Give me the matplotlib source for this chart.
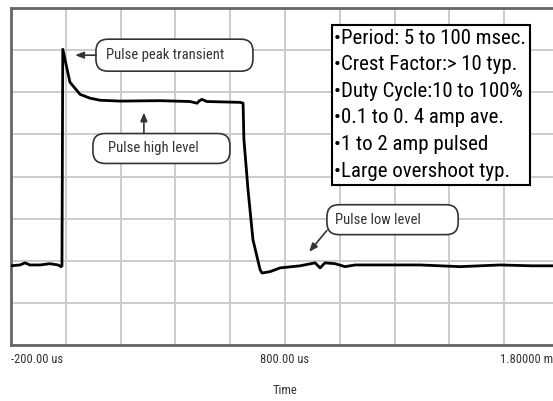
import matplotlib
matplotlib.use("Agg")
import matplotlib.pyplot as plt
from matplotlib.patches import FancyBboxPatch, Rectangle
from matplotlib import font_manager

# trace (time in us, level in grid divisions)
time_us = [-200, -167, -149, -131, -94, -58, -28, -18, -14, -11, 15, 52, 88, 125,
           198, 344, 453, 479, 488, 497, 515, 636, 647, 650, 665, 683, 709, 716,
           745, 782, 855, 910, 928, 946, 983, 1019, 1056, 1147, 1293, 1439, 1585,
           1700, 1800]
level = [1.88, 1.90, 1.95, 1.90, 1.90, 1.93, 1.90, 1.86, 1.88, 7.02, 6.24, 5.95,
         5.86, 5.81, 5.79, 5.80, 5.78, 5.74, 5.80, 5.83, 5.78, 5.76, 5.74, 4.88,
         3.69, 2.50, 1.79, 1.71, 1.74, 1.83, 1.88, 1.95, 1.83, 1.95, 1.93, 1.86,
         1.90, 1.90, 1.90, 1.86, 1.90, 1.88, 1.88]

tick_pos = [-200, 800, 1800]
tick_labels = ["-200.00 us", "800.00 us", "1.80000 ms"]
spec_lines = ["•Period: 5 to 100 msec.", "•Crest Factor:> 10 typ.",
              "•Duty Cycle:10 to 100%", "•0.1 to 0. 4 amp ave.",
              "•1 to 2 amp pulsed", "•Large overshoot typ."]

# pick a condensed face if one is around
names = {f.name for f in font_manager.fontManager.ttflist}
cond = [n for n in ["Roboto Condensed", "Liberation Sans Narrow",
                    "DejaVu Sans Condensed"] if n in names]
plt.rcParams["font.family"] = cond + ["DejaVu Sans"]
plt.rcParams["font.stretch"] = "condensed"

fig = plt.figure(figsize=(5.53, 4.01), dpi=100)
ax = fig.add_axes([11 / 553, 56 / 401, 548 / 553, 337 / 401])
ax.set_xlim(-200, 1800)
ax.set_ylim(0, 8)

# grid every 200 us and every division
for x in range(-200, 1801, 200):
    ax.axvline(x, color="#cccccc", lw=1.4, zorder=1)
for y in range(0, 9):
    ax.axhline(y, color="#cccccc", lw=1.4, zorder=1)

ax.plot(time_us, level, color="black", lw=2, zorder=3)

ax.set_yticks([])
ax.set_xticks(tick_pos)
ax.set_xticklabels(tick_labels, fontsize=9, color="#333333")
ax.tick_params(axis="x", length=0, pad=6)
labs = ax.get_xticklabels()
labs[0].set_ha("left")
labs[-1].set_ha("right")
ax.set_xlabel("Time", fontsize=9, color="#333333", labelpad=13)
for s in ax.spines.values():
    s.set_color("#666666")
    s.set_linewidth(2)

# aspect for rounded boxes in data coords
x_per_px = 2000 / (548)
y_per_px = 8 / 337
asp = y_per_px / x_per_px


def callout(text, x0, x1, y0, y1, tx, start, tip):
    box = FancyBboxPatch((x0, y0), x1 - x0, y1 - y0,
                         boxstyle="round,pad=0,rounding_size=%f" % (12 * x_per_px),
                         mutation_aspect=asp, fc="white", ec="#333333", lw=1.2,
                         zorder=4)
    ax.add_patch(box)
    ax.text(tx, (y0 + y1) / 2, text, fontsize=10.5, color="#333333",
            va="center", ha="left", zorder=5)
    ax.annotate("", xy=tip, xytext=start, zorder=5,
                arrowprops=dict(arrowstyle="-|>,head_length=0.5,head_width=0.2",
                                color="#333333", lw=1.2, shrinkA=0, shrinkB=0))


callout("Pulse peak transient", 110, 683, 6.50, 7.26, 146, (110, 6.88), (34, 6.88))
callout("Pulse high level", 99, 599, 4.31, 5.02, 154, (285, 5.02), (285, 5.52))
callout("Pulse low level", 953, 1432, 2.62, 3.33, 983, (953, 2.72), (888, 2.21))

# spec box
ax.add_patch(Rectangle((972, 3.81), 722, 3.79, fc="white", ec="black", lw=1.5,
                       zorder=4))
for i, line in enumerate(spec_lines):
    ax.text(979, 7.6 - (i + 0.5) * 3.79 / 6, line, fontsize=15, color="black",
            va="center", ha="left", zorder=5)

fig.savefig("out.png", dpi=100)
